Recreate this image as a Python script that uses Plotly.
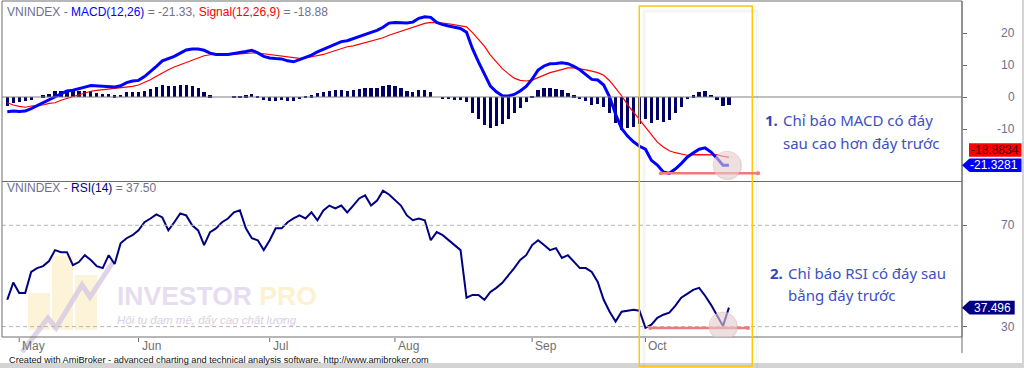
import plotly.graph_objects as go

# ---------------- data ----------------
months = ["May", "Jun", "Jul", "Aug", "Sep", "Oct"]
month_pos = [2, 22, 44, 65, 88, 107]

macd = [-4.6, -4.4, -4.5, -4.4, -3.6, -2.7, -1.9, -1.0, 0.1, 1.0,
        1.9, 2.1, 2.7, 3.1, 3.6, 3.5, 3.3, 3.3, 3.1, 3.5,
        4.5, 5.0, 5.2, 6.4, 7.9, 9.6, 11.3, 11.9, 12.7, 13.7,
        14.7, 15.0, 15.0, 14.6, 13.7, 13.3, 13.3, 13.3, 13.6, 13.8,
        14.2, 14.6, 13.8, 12.7, 12.2, 12.0, 11.9, 11.3, 11.0, 11.7,
        12.3, 13.1, 14.1, 14.9, 15.8, 16.7, 17.3, 17.6, 18.3, 18.85,
        19.6, 20.2, 20.8, 21.8, 23.1, 23.3, 23.2, 23.1, 23.4, 24.6,
        25.1, 24.9, 23.3, 22.6, 22.2, 21.8, 21.4, 20.2, 15.1, 11.0,
        7.1, 3.4, 1.65, 0.4, 0.3, 0.8, 1.9, 3.3, 5.6, 8.4,
        9.7, 10.4, 10.5, 10.7, 10.4, 9.6, 8.5, 7.1, 5.5, 5.3,
        3.75, 0.0, -5.4, -9.8, -12.2, -14.0, -15.4, -16.3, -19.8, -21.25,
        -23.4, -23.85, -22.5, -20.8, -18.8, -17.5, -16.3, -15.9, -17.2, -19.1,
        -21.3, -21.3281]

signal = [-1.8, -2.5, -2.9, -3.2, -2.8, -2.7, -2.5, -2.0, -1.8, -1.0,
          -0.4, 0.0, 0.7, 1.25, 1.8, 2.1, 2.3, 2.5, 2.6, 2.8,
          3.0, 3.3, 3.75, 4.5, 5.4, 6.5, 7.6, 8.5, 9.4, 10.1,
          10.8, 11.6, 12.3, 12.9, 13.2, 13.3, 13.3, 13.3, 13.3, 13.5,
          13.6, 13.75, 13.75, 13.5, 13.3, 13.1, 12.8, 12.5, 12.2, 12.1,
          12.2, 12.5, 12.8, 13.3, 13.9, 14.5, 15.2, 15.7, 16.0, 16.5,
          16.9, 17.4, 17.9, 18.5, 19.3, 19.9, 20.5, 21.1, 21.8, 22.4,
          23.0, 23.3, 23.3, 23.1, 22.9, 22.6, 22.4, 21.9, 20.1, 18.0,
          15.9, 13.1, 10.8, 8.85, 7.3, 5.9, 5.2, 5.0, 5.3, 6.15,
          6.9, 7.6, 8.1, 8.6, 9.1, 9.1, 8.85, 8.5, 8.1, 7.6,
          6.8, 5.1, 2.8, 0.4, -2.4, -4.7, -7.0, -9.4, -11.7, -14.1,
          -15.6, -16.8, -17.4, -17.8, -18.2, -18.0, -18.0, -17.9, -17.9, -18.1,
          -18.5, -18.8834]

rsi = [40.6, 47.4, 43.3, 43.3, 51.6, 53.1, 53.9, 55.9, 60.2, 59.4,
       59.4, 54.3, 55.5, 58.2, 56.3, 53.9, 53.1, 58.2, 54.7, 62.9,
       64.9, 66.1, 68.0, 71.2, 72.7, 74.3, 73.1, 68.0, 71.2, 74.7,
       73.9, 70.0, 68.0, 62.2, 67.3, 68.8, 71.2, 72.7, 75.1, 75.9,
       68.8, 64.9, 64.1, 60.2, 64.1, 68.8, 68.8, 71.2, 72.7, 73.9,
       72.7, 75.1, 72.0, 75.9, 77.8, 76.7, 77.8, 75.1, 77.8, 80.6,
       81.8, 77.8, 79.8, 83.7, 82.2, 79.8, 77.8, 73.9, 72.0, 72.7,
       72.0, 64.1, 67.3, 66.1, 64.1, 62.2, 60.2, 41.4, 42.5, 42.5,
       40.6, 43.7, 45.3, 47.3, 50.0, 53.1, 56.3, 58.2, 62.2, 64.1,
       62.2, 60.2, 61.0, 57.1, 58.2, 55.5, 53.1, 53.1, 51.6, 47.6,
       40.6, 35.9, 32.0, 35.9, 36.3, 36.7, 36.3, 29.5, 30.8, 33.5,
       34.7, 35.5, 38.2, 41.4, 42.9, 44.5, 45.3, 42.2, 38.6, 34.3,
       30.2, 37.496]

macd_ticks = [20, 10, 0, -10]
rsi_ticks = [70, 30]

idx = list(range(len(macd)))
hist = [m - s for m, s in zip(macd, signal)]

# ---------------- geometry helpers (pixel -> paper) ----------------
W, H = 1024, 368
L, R, T, B = 2, 962, 1, 337
SPLIT = 181.5


def px(x):
    return (x - L) / (R - L)


def py(y):
    return (B - y) / (B - T)


TOP_RANGE = [-26.4, 30.0]
BOT_RANGE = [25.9, 87.3]
X_RANGE = [-0.889, 160.08]

GRAY_TXT = "#70708a"
FONT = "Liberation Sans"
NOTE_BLUE = "#3d4fc4"

fig = go.Figure()

fig.add_trace(go.Bar(x=idx, y=hist, xaxis="x", yaxis="y", width=0.55,
                     marker=dict(color="#000066", line=dict(width=0)),
                     hoverinfo="skip"))
fig.add_trace(go.Scatter(x=idx, y=signal, xaxis="x", yaxis="y", mode="lines",
                         line=dict(color="#ff0000", width=1.2)))
fig.add_trace(go.Scatter(x=idx, y=macd, xaxis="x", yaxis="y", mode="lines",
                         line=dict(color="#0000ff", width=3)))
fig.add_trace(go.Scatter(x=idx, y=rsi, xaxis="x", yaxis="y2", mode="lines",
                         line=dict(color="#000080", width=2)))

shapes = []
ann = []

# ---- watermark (below traces) ----
for (x0, y0, x1, y1) in [(28, 293, 50, 330), (52, 256, 73, 330), (75, 275, 97, 330)]:
    shapes.append(dict(type="rect", xref="paper", yref="paper", layer="below",
                       x0=px(x0), x1=px(x1), y0=py(y1), y1=py(y0),
                       fillcolor="#fdf3d8", line=dict(width=0)))
zz = [(22, 352), (48, 318), (56, 328), (82, 285), (90, 297), (113, 262)]
path = "M " + " L ".join(f"{px(a)},{py(b)}" for a, b in zz)
shapes.append(dict(type="path", xref="paper", yref="paper", layer="below", path=path,
                   line=dict(color="rgba(214,200,226,0.8)", width=5)))
ann.append(dict(x=px(115), y=py(296), xref="paper", yref="paper", xanchor="left", yanchor="middle",
                showarrow=False,
                text="<b><span style='color:#e6def0'>INVESTOR </span><span style='color:#fcf1d0'>PRO</span></b>",
                font=dict(family=FONT, size=26.5)))
ann.append(dict(x=px(115), y=py(320), xref="paper", yref="paper", xanchor="left", yanchor="middle",
                showarrow=False, text="<i>Hội tụ đam mê, đẩy cao chất lượng</i>",
                font=dict(family=FONT, size=11.5, color="#d9d0e2")))

# ---- reference lines ----
shapes.append(dict(type="line", xref="paper", yref="y", x0=0, x1=1, y0=0, y1=0,
                   line=dict(color="#808080", width=1)))
for lv in rsi_ticks:
    shapes.append(dict(type="line", xref="paper", yref="y2", x0=0, x1=1, y0=lv, y1=lv,
                       line=dict(color="#b4b4b4", width=1, dash="4px,3px")))

# ---- frame ----
fc = "#6e6e6e"
shapes.append(dict(type="rect", xref="paper", yref="paper", x0=0, x1=1, y0=0, y1=1,
                   line=dict(color=fc, width=1)))
shapes.append(dict(type="line", xref="paper", yref="paper", x0=0, x1=1, y0=py(SPLIT), y1=py(SPLIT),
                   line=dict(color=fc, width=1)))
shapes.append(dict(type="line", xref="paper", yref="paper", x0=1, x1=1, y0=py(353), y1=1,
                   line=dict(color=fc, width=1)))
# bottom grey band and right edge
shapes.append(dict(type="rect", xref="paper", yref="paper", x0=px(0), x1=px(1024), y0=py(368), y1=py(363),
                   fillcolor="#d4d4d4", line=dict(width=0)))
shapes.append(dict(type="rect", xref="paper", yref="paper", x0=px(1022), x1=px(1024), y0=py(368), y1=py(0),
                   fillcolor="#d4d4d4", line=dict(width=0)))

# ---- month ticks and labels ----
for m, p in zip(months, month_pos):
    shapes.append(dict(type="line", xref="x", yref="paper", x0=p, x1=p, y0=py(338), y1=py(342),
                       line=dict(color=fc, width=1)))
    ann.append(dict(x=p, y=py(345.5), xref="x", yref="paper", xanchor="left", yanchor="middle",
                    xshift=1, showarrow=False, text=m, font=dict(family=FONT, size=12, color="#707070")))

# ---- right axis labels ----
for t in macd_ticks:
    ann.append(dict(x=px(1017), y=t, xref="paper", yref="y", xanchor="right", yanchor="middle",
                    showarrow=False, text=str(t), font=dict(family=FONT, size=12, color=GRAY_TXT)))
for t in rsi_ticks:
    ann.append(dict(x=px(1017), y=t, xref="paper", yref="y2", xanchor="right", yanchor="middle",
                    showarrow=False, text=str(t), font=dict(family=FONT, size=12, color=GRAY_TXT)))

# ---- value tags ----
TAG_H = 4.2  # data units in top pane
yc_m = macd[-1]
yc_s = macd[-1] + TAG_H + 0.6
shapes.append(dict(type="rect", xref="paper", yref="y", x0=px(969), x1=px(1021.5),
                   y0=yc_s - TAG_H / 2, y1=yc_s + TAG_H / 2, fillcolor="#ff0000", line=dict(width=0)))
ann.append(dict(x=px(995), y=yc_s, xref="paper", yref="y", xanchor="center", yanchor="middle",
                showarrow=False, text=f"{signal[-1]:.4f}", font=dict(family=FONT, size=12, color="#400000")))
p_m = (f"M {px(962)},{yc_m} L {px(969.5)},{yc_m + TAG_H / 2} L {px(1021.5)},{yc_m + TAG_H / 2} "
       f"L {px(1021.5)},{yc_m - TAG_H / 2} L {px(969.5)},{yc_m - TAG_H / 2} Z")
shapes.append(dict(type="path", xref="paper", yref="y", path=p_m, fillcolor="#0000ff", line=dict(width=0)))
ann.append(dict(x=px(994), y=yc_m, xref="paper", yref="y", xanchor="center", yanchor="middle",
                showarrow=False, text=f"{macd[-1]:.4f}", font=dict(family=FONT, size=12, color="white")))

RH = 5.5
yc_r = rsi[-1]
p_r = (f"M {px(962)},{yc_r} L {px(969.5)},{yc_r + RH / 2} L {px(1014.7)},{yc_r + RH / 2} "
       f"L {px(1014.7)},{yc_r - RH / 2} L {px(969.5)},{yc_r - RH / 2} Z")
shapes.append(dict(type="path", xref="paper", yref="y2", path=p_r, fillcolor="#000080", line=dict(width=0)))
ann.append(dict(x=px(992), y=yc_r, xref="paper", yref="y2", xanchor="center", yanchor="middle",
                showarrow=False, text=f"{rsi[-1]:.3f}", font=dict(family=FONT, size=12, color="white")))

# ---- pane titles ----
ann.append(dict(x=px(5), y=py(11.5), xref="paper", yref="paper", xanchor="left", yanchor="middle",
                showarrow=False,
                text=(f"<span style='color:{GRAY_TXT}'>VNINDEX - </span><span style='color:#0000ff'>MACD(12,26)</span>"
                      f"<span style='color:{GRAY_TXT}'> = {macd[-1]:.2f}, </span>"
                      f"<span style='color:#ff0000'>Signal(12,26,9)</span>"
                      f"<span style='color:{GRAY_TXT}'> = {signal[-1]:.2f}</span>"),
                font=dict(family=FONT, size=12)))
ann.append(dict(x=px(5), y=py(188), xref="paper", yref="paper", xanchor="left", yanchor="middle",
                showarrow=False,
                text=(f"<span style='color:{GRAY_TXT}'>VNINDEX - </span><span style='color:#000080'>RSI(14)</span>"
                      f"<span style='color:{GRAY_TXT}'> = {rsi[-1]:.2f}</span>"),
                font=dict(family=FONT, size=12)))

# ---- footer ----
ann.append(dict(x=px(7), y=py(360), xref="paper", yref="paper", xanchor="left", yanchor="middle",
                showarrow=False,
                text="Created with AmiBroker - advanced charting and technical analysis software. http://www.amibroker.com",
                font=dict(family=FONT, size=9.2, color="#111111")))

# ---- highlight box ----
shapes.append(dict(type="rect", xref="paper", yref="paper", x0=px(644), x1=px(757), y0=py(370), y1=py(11),
                   line=dict(color="rgba(0,0,0,0.04)", width=3)))
shapes.append(dict(type="rect", xref="paper", yref="paper", x0=px(639.3), x1=px(752.3), y0=py(366), y1=py(6),
                   line=dict(color="#ffc800", width=1.5)))

# ---- bottom markers (lines + circles) ----
MACD_LOW_SPAN = (109.6, 125.9)
RSI_LOW_SPAN = (107.8, 124.2)
lm = min(macd)
lr = min(rsi)
for (a, b), lv, yr in [(MACD_LOW_SPAN, lm, "y"), (RSI_LOW_SPAN, lr, "y2")]:
    shapes.append(dict(type="line", xref="x", yref=yr, x0=a, x1=b, y0=lv, y1=lv,
                       line=dict(color="#f07a7a", width=2.5)))
    for e in (a, b):
        shapes.append(dict(type="circle", xref="x", yref=yr, xsizemode="pixel", ysizemode="pixel",
                           xanchor=e, yanchor=lv, x0=-2, x1=2, y0=-2, y1=2,
                           fillcolor="#f07a7a", line=dict(width=0)))
for xa, ya, yr in [(idx[-1] - 0.3, macd[-1], "y"), (idx[-2], rsi[-2], "y2")]:
    shapes.append(dict(type="circle", xref="x", yref=yr, xsizemode="pixel", ysizemode="pixel",
                       xanchor=xa, yanchor=ya, x0=-13, x1=15, y0=-15, y1=13,
                       fillcolor="rgba(120,120,120,0.15)", line=dict(width=0)))
    shapes.append(dict(type="circle", xref="x", yref=yr, xsizemode="pixel", ysizemode="pixel",
                       xanchor=xa, yanchor=ya, x0=-14, x1=14, y0=-14, y1=14,
                       fillcolor="rgba(240,215,215,0.55)", line=dict(color="rgba(220,190,190,0.6)", width=1)))

# ---- notes ----
notes = [
    ("1.", ["Chỉ báo MACD có đáy", "sau cao hơn đáy trước"], 763, 781, 120, 143),
    ("2.", ["Chỉ báo RSI có đáy sau", "bằng đáy trước"], 768, 786, 273, 295),
]
for num, lines, xn, xt, y1, y2 in notes:
    ann.append(dict(x=px(xn), y=py(y1), xref="paper", yref="paper", xanchor="left", yanchor="middle",
                    showarrow=False, text=f"<b>{num}</b>", font=dict(family="Noto Sans", size=15, color="#3346b8")))
    for txt, yy in zip(lines, (y1, y2)):
        ann.append(dict(x=px(xt), y=py(yy), xref="paper", yref="paper", xanchor="left", yanchor="middle",
                        showarrow=False, text=txt, font=dict(family="Noto Sans", size=15, color=NOTE_BLUE)))

fig.update_layout(
    width=W, height=H,
    margin=dict(l=L, r=W - R, t=T, b=H - B),
    paper_bgcolor="white", plot_bgcolor="white",
    showlegend=False, bargap=0,
    xaxis=dict(domain=[0, 1], range=X_RANGE, anchor="y2", showgrid=False, zeroline=False,
               showticklabels=False, showline=False, ticks=""),
    yaxis=dict(domain=[py(SPLIT), 1], range=TOP_RANGE, side="right", anchor="x", showgrid=False,
               zeroline=False, showticklabels=False, showline=False, ticks="outside", ticklen=4,
               tickcolor=fc, tickvals=macd_ticks),
    yaxis2=dict(domain=[0, py(SPLIT)], range=BOT_RANGE, side="right", anchor="x", showgrid=False,
                zeroline=False, showticklabels=False, showline=False, ticks="outside", ticklen=4,
                tickcolor=fc, tickvals=rsi_ticks),
    shapes=shapes, annotations=ann,
)

fig.write_html("out.html", config={"displayModeBar": False},
               post_script="document.body.style.margin='0';document.body.style.overflow='hidden';")
